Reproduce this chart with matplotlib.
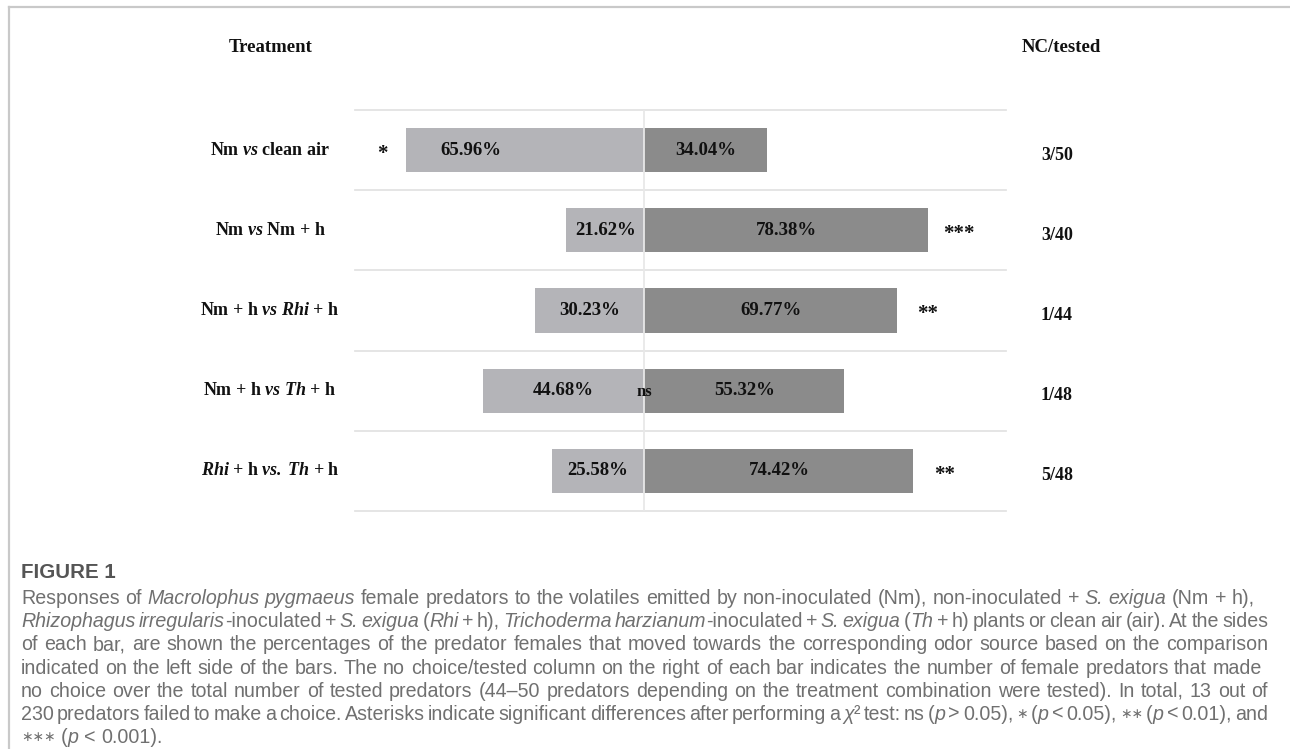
import re
import matplotlib
matplotlib.use("Agg")
import matplotlib.pyplot as plt
from matplotlib import font_manager
from matplotlib.lines import Line2D
from matplotlib.transforms import blended_transform_factory

# ---------------------------------------------------------------- data
left_pct = [65.96, 21.62, 30.23, 44.68, 25.58]
right_pct = [34.04, 78.38, 69.77, 55.32, 74.42]
significance = ["*", "***", "**", "ns", "**"]
no_choice = [3, 3, 1, 1, 5]
tested = [50, 40, 44, 48, 48]

HAS_BFIT = "mathtext.bfit" in plt.rcParams
BI = r"\mathbfit" if HAS_BFIT else r"\mathit"
treatments = [
    "Nm $%s{vs}$ clean air" % BI,
    "Nm $%s{vs}$ Nm + h" % BI,
    "Nm + h $%s{vs}$ $%s{Rhi}$ + h" % (BI, BI),
    "Nm + h $%s{vs}$ $%s{Th}$ + h" % (BI, BI),
    r"$%s{Rhi}$ + h $%s{vs.}\;%s{Th}$ + h" % (BI, BI, BI),
]

# caption text; words in {braces} are set in italics
caption_title = "FIGURE 1"
caption_lines = [
    "Responses of {Macrolophus pygmaeus} female predators to the volatiles emitted by "
    "non-inoculated (Nm), non-inoculated + {S. exigua} (Nm + h),",
    "{Rhizophagus irregularis}-inoculated + {S. exigua} ({Rhi} + h), {Trichoderma harzianum}"
    "-inoculated + {S. exigua} ({Th} + h) plants or clean air (air). At the sides",
    "of each bar, are shown the percentages of the predator females that moved towards the "
    "corresponding odor source based on the comparison",
    "indicated on the left side of the bars. The no choice/tested column on the right of each bar "
    "indicates the number of female predators that made",
    "no choice over the total number of tested predators (44\u201350 predators depending on the "
    "treatment combination were tested). In total, 13 out of",
    "230 predators failed to make a choice. Asterisks indicate significant differences after "
    "performing a {\u03c7}\u00b2 test: ns ({p} > 0.05), \u2217 ({p} < 0.05), \u2217\u2217 ({p} < 0.01), and",
    "\u2217\u2217\u2217 ({p} < 0.001).",
]
full_lines = [1, 2, 4, 5]

# ---------------------------------------------------------------- fonts
installed = {f.name for f in font_manager.fontManager.ttflist}
CAP_FONT = "Liberation Sans Narrow" if "Liberation Sans Narrow" in installed else "Liberation Sans"
SERIF = "Liberation Serif"

plt.rcParams.update({
    "mathtext.fontset": "custom",
    "mathtext.rm": SERIF,
    "mathtext.it": f"{SERIF}:italic",
    "mathtext.bf": f"{SERIF}:bold",
    "mathtext.fallback": "stix",
})
if HAS_BFIT:
    plt.rcParams["mathtext.bfit"] = f"{SERIF}:italic:bold"

# ---------------------------------------------------------------- figure
W, H = 1290, 749
fig = plt.figure(figsize=(W / 100, H / 100), dpi=100)
fig.patch.set_facecolor("white")


def fx(px):
    return px / W


def fy(py):
    return 1 - py / H


# panel frame (top and left edges)
frame_kw = dict(color="#c9c9c9", lw=1.6, transform=fig.transFigure)
fig.add_artist(Line2D([fx(9), 1.0], [fy(7), fy(7)], **frame_kw))
fig.add_artist(Line2D([fx(9), fx(9)], [fy(7), 0.0], **frame_kw))

# chart area
ax_l, ax_r, ax_t, ax_b = 355, 1006, 110, 511
ax = fig.add_axes([fx(ax_l), fy(ax_b), fx(ax_r - ax_l), (ax_b - ax_t) / H])
ax.set_xlim(-80, 100)
n = len(left_pct)
ax.set_ylim(n - 0.5, -0.5)
ax.axis("off")

LIGHT = "#b4b4b8"
DARK = "#8b8b8b"
GRID = "#e3e3e3"
rows = list(range(n))
bar_h = 0.55

ax.barh(rows, [-v for v in left_pct], height=bar_h, color=LIGHT, zorder=2)
ax.barh(rows, right_pct, height=bar_h, color=DARK, zorder=2)

for k in range(n + 1):
    ax.axhline(k - 0.5, color=GRID, lw=1.3, zorder=1, clip_on=False)
ax.axvline(0, color="#e8e8e8", lw=1.3, zorder=3)

txt_kw = dict(family=SERIF, fontweight="bold", color="#111111")
label_shift_px = {0: -54}
for i in rows:
    ax.annotate(f"{left_pct[i]:.2f}%", (-left_pct[i] / 2, i), xytext=(label_shift_px.get(i, 0), 0),
                textcoords="offset pixels", ha="center", va="center", fontsize=13.5, zorder=4, **txt_kw)
    ax.text(right_pct[i] / 2, i, f"{right_pct[i]:.2f}%", ha="center", va="center",
            fontsize=13.5, zorder=4, **txt_kw)
    sig = significance[i]
    if sig == "ns":
        ax.annotate("ns", (0, i), xytext=(0, -1), textcoords="offset pixels",
                    ha="center", va="center", fontsize=12, zorder=4, **txt_kw)
    elif left_pct[i] > right_pct[i]:
        ax.annotate(sig, (-left_pct[i], i), xytext=(-23, -4), textcoords="offset pixels",
                    ha="center", va="center", fontsize=15, zorder=4, **txt_kw)
    else:
        ax.annotate(sig, (right_pct[i], i), xytext=(31, -4), textcoords="offset pixels",
                    ha="center", va="center", fontsize=15, zorder=4, **txt_kw)

# row labels and no-choice counts
row_tr = blended_transform_factory(fig.transFigure, ax.transData)
for i in rows:
    fig.text(fx(270), i, treatments[i], transform=row_tr, ha="center", va="center",
             fontsize=13, **txt_kw)
    ax.annotate(f"{no_choice[i]}/{tested[i]}", (fx(1057), i), xycoords=row_tr,
                xytext=(0, -5), textcoords="offset pixels",
                ha="center", va="center", fontsize=13, **txt_kw)

# column headers
fig.text(fx(271), fy(48), "Treatment", ha="center", va="center", fontsize=13.5, **txt_kw)
fig.text(fx(1061), fy(48), "NC/tested", ha="center", va="center", fontsize=13.5, **txt_kw)

# ---------------------------------------------------------------- caption
renderer = fig.canvas.get_renderer()
CAP_FAMILY = [CAP_FONT, "DejaVu Sans"]
STAR_SCALE = 0.7
MIN_GAP = 0.6  # tightest word gap allowed, as a fraction of a space


def split_words(line):
    """Return words, each a list of (text, italic) pieces."""
    pieces = []
    for k, chunk in enumerate(re.split(r"[{}]", line)):
        if chunk:
            pieces.append((chunk, k % 2 == 1))
    words, cur = [], []
    for text, ital in pieces:
        parts = text.split(" ")
        for m, part in enumerate(parts):
            if m > 0:
                if cur:
                    words.append(cur)
                cur = []
            if part:
                cur.append((part, ital))
    if cur:
        words.append(cur)
    return words


def is_star(text):
    return set(text) == {"\u2217"}


_adv_cache = {}


def piece_size(text, size):
    return size * STAR_SCALE if is_star(text) else size


def advance(text, ital, size):
    size = piece_size(text, size)
    key = (text, ital, size)
    if key not in _adv_cache:
        style = "italic" if ital else "normal"
        a = fig.text(0, 0.5, "|" + text + "|", family=CAP_FAMILY, style=style, fontsize=size)
        b = fig.text(0, 0.5, "||", family=CAP_FAMILY, style=style, fontsize=size)
        _adv_cache[key] = a.get_window_extent(renderer).width - b.get_window_extent(renderer).width
        a.remove()
        b.remove()
    return _adv_cache[key]


def ink_width(words, size):
    return sum(advance(t, it, size) for w in words for t, it in w)


cap_x, cap_right = 21, 1268
target = cap_right - cap_x
parsed = [split_words(line) for line in caption_lines]
probe_size = 10
probe_space = advance(" ", False, probe_size)
tightest = max(ink_width(parsed[j], probe_size) + MIN_GAP * probe_space * (len(parsed[j]) - 1)
               for j in full_lines)
cap_size = probe_size * target / tightest

fig.text(fx(cap_x), fy(578), caption_title, family=CAP_FONT, fontweight="bold",
         fontsize=cap_size * 1.05, color="#555555", ha="left", va="baseline")

line_y0, line_step = 604, 23.2
space = advance(" ", False, cap_size)
for j, words in enumerate(parsed):
    gap = space
    if j in full_lines and len(words) > 1:
        gap = (target - ink_width(words, cap_size)) / (len(words) - 1)
    x = cap_x
    base = line_y0 + j * line_step
    for w in words:
        for text, ital in w:
            lift = 2.5 if is_star(text) else 0.0
            fig.text(fx(x), fy(base - lift), text, family=CAP_FAMILY,
                     style="italic" if ital else "normal",
                     fontsize=piece_size(text, cap_size), color="#707070",
                     ha="left", va="baseline")
            x += advance(text, ital, cap_size)
        x += gap

fig.savefig("out.png", dpi=100, facecolor="white")
